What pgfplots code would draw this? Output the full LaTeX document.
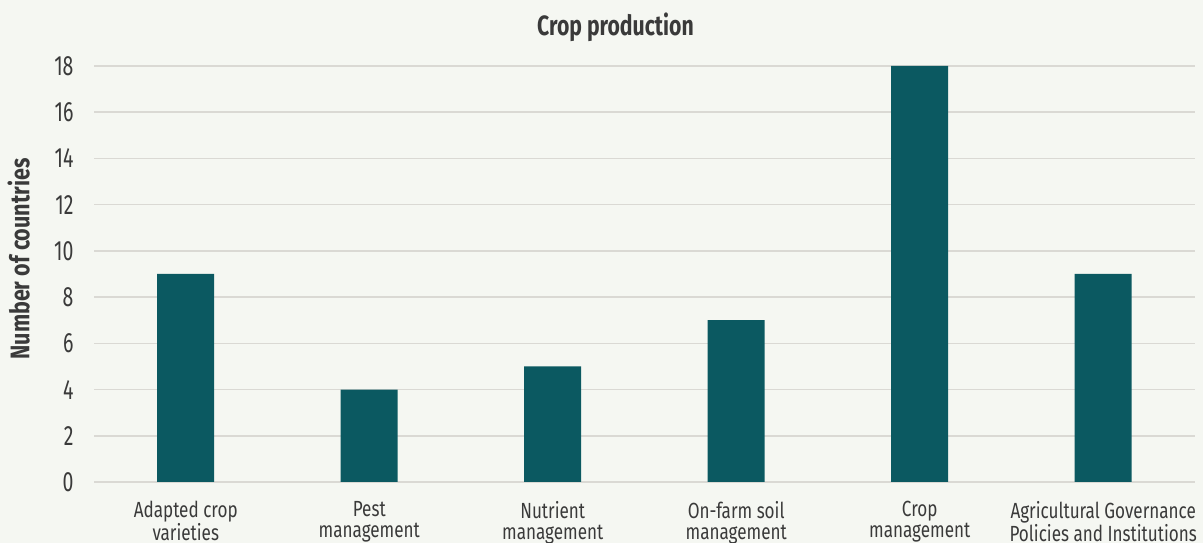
\documentclass[border=0pt]{standalone}
\usepackage{fontspec}
\setmainfont{Fira Sans}[FakeStretch=0.78]
\newfontfamily\tickfont{Fira Sans}[FakeStretch=0.7]
\newfontfamily\headfont{Fira Sans}[FakeStretch=0.8]
\newfontfamily\titlefont{Fira Sans}[FakeStretch=0.76]
\usepackage{pgfplots}
\pgfplotsset{compat=1.18}
\definecolor{bg}{HTML}{F5F7F2}
\definecolor{barc}{HTML}{0B5961}
\definecolor{gridc}{HTML}{DAD9D4}
\definecolor{txt}{HTML}{3A3A3A}
\begin{document}
\begin{tikzpicture}
\fill[bg] (0,0) rectangle (1203bp,543bp);
\useasboundingbox (0,0) rectangle (1203bp,543bp);
\begin{axis}[
    at={(94bp,61bp)}, anchor=south west,
    scale only axis,
    width=1101bp, height=416bp,
    xmin=-0.5, xmax=5.5,
    ymin=0, ymax=18,
    ytick={0,2,...,18},
    xtick=data,
    xticklabels={{Adapted crop\\varieties},{Pest\\management},{Nutrient\\management},{On-farm soil\\management},{Crop\\management},{Agricultural Governance\\Policies and Institutions}},
    axis line style={draw=none},
    major tick length=0pt,
    ymajorgrids,
    grid style={gridc, line width=1.5bp},
    ybar, bar width=57bp,
    every tick label/.append style={txt},
    yticklabel style={font=\tickfont\fontsize{28}{28}\selectfont, xshift=-17bp},
    xticklabel style={font=\fontsize{22}{20.5}\selectfont, align=center, yshift=-16bp},
    /pgf/number format/assume math mode=true,
    ylabel={\headfont\bfseries Number of countries},
    ylabel style={font=\fontsize{27}{27}\selectfont, txt, at={(axis description cs:-0.055,0.536)}, anchor=south},
    title={\titlefont\bfseries Crop production},
    title style={font=\fontsize{28}{28}\selectfont, txt, at={(axis description cs:0.5,1)}, anchor=base, yshift=25bp, xshift=-29bp},
]
\addplot[fill=barc, draw=none] coordinates {(0,9) (1,4) (2,5) (3,7) (4,18) (5,9)};
\end{axis}
\end{tikzpicture}
\end{document}
